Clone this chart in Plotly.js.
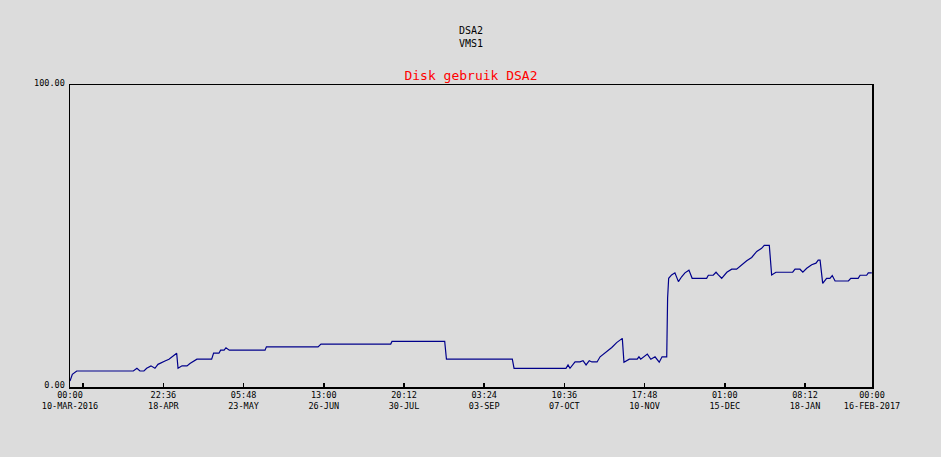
<!DOCTYPE html>
<html>
<head>
<meta charset="utf-8">
<script src="https://cdn.plot.ly/plotly-3.0.1.min.js"></script>
<style>
  html, body { margin: 0; padding: 0; background: #dcdcdc; }
  #chart { width: 941px; height: 457px; }
</style>
</head>
<body>
<div id="chart"></div>
<script>
// Sample times and disk usage (%)
const times = [
  "2016-03-10 00:00","2016-03-11 00:00","2016-03-12 21:00","2016-04-06 02:00","2016-04-07 15:00",
  "2016-04-08 22:00","2016-04-10 15:00","2016-04-11 19:00","2016-04-13 15:00","2016-04-15 08:00",
  "2016-04-16 15:00","2016-04-18 08:00","2016-04-19 15:00","2016-04-21 08:00","2016-04-22 14:00",
  "2016-04-24 15:00","2016-04-25 05:00","2016-04-26 22:00","2016-04-29 01:00","2016-04-30 07:00",
  "2016-05-03 07:00","2016-05-09 14:00","2016-05-10 10:00","2016-05-12 17:00","2016-05-13 10:00",
  "2016-05-14 22:00","2016-05-15 17:00","2016-05-17 03:00","2016-06-01 10:00","2016-06-02 00:00",
  "2016-06-24 02:00","2016-06-25 08:00","2016-07-25 04:00","2016-07-25 17:00","2016-08-17 06:00",
  "2016-08-18 00:00","2016-09-15 04:00","2016-09-15 22:00","2016-10-08 03:00","2016-10-09 00:00",
  "2016-10-09 20:00","2016-10-11 02:00","2016-10-12 00:00","2016-10-14 02:00","2016-10-15 10:00",
  "2016-10-16 17:00","2016-10-18 02:00","2016-10-19 05:00","2016-10-21 10:00","2016-10-22 17:00",
  "2016-10-24 19:00","2016-10-27 17:00","2016-10-29 19:00","2016-11-01 05:00","2016-11-01 22:00",
  "2016-11-04 05:00","2016-11-07 14:00","2016-11-08 08:00","2016-11-09 02:00","2016-11-10 14:00",
  "2016-11-11 22:00","2016-11-13 10:00","2016-11-15 05:00","2016-11-17 00:00","2016-11-18 05:00",
  "2016-11-20 05:00","2016-11-20 14:00","2016-11-21 01:00","2016-11-22 07:00","2016-11-23 17:00",
  "2016-11-25 05:00","2016-11-26 14:00","2016-11-28 00:00","2016-11-29 17:00","2016-12-01 02:00",
  "2016-12-07 07:00","2016-12-08 00:00","2016-12-10 02:00","2016-12-11 07:00","2016-12-12 07:00",
  "2016-12-13 17:00","2016-12-15 22:00","2016-12-18 00:00","2016-12-20 02:00","2016-12-22 07:00",
  "2016-12-24 10:00","2016-12-26 13:00","2016-12-28 17:00","2016-12-30 19:00","2016-12-31 22:00",
  "2017-01-03 02:00","2017-01-04 02:00","2017-01-05 22:00","2017-01-13 02:00","2017-01-14 02:00",
  "2017-01-16 05:00","2017-01-17 10:00","2017-01-19 02:00","2017-01-21 05:00","2017-01-23 01:00",
  "2017-01-24 00:00","2017-01-24 19:00","2017-01-25 22:00","2017-01-27 14:00","2017-01-29 00:00",
  "2017-01-30 00:00","2017-01-31 05:00","2017-02-05 22:00","2017-02-06 22:00","2017-02-10 02:00",
  "2017-02-10 22:00","2017-02-13 17:00","2017-02-14 10:00","2017-02-15 22:00"
];
const usage = [
  2.0, 4.2, 5.3, 5.3, 6.2,
  5.3, 5.3, 6.2, 7.0, 6.2,
  7.5, 8.0, 8.6, 9.2, 10.0,
  11.2, 6.2, 7.0, 7.0, 7.8,
  9.2, 9.2, 11.2, 11.2, 12.2,
  12.2, 13.0, 12.2, 12.2, 13.3,
  13.3, 14.2, 14.2, 15.1, 15.1,
  9.2, 9.2, 6.2, 6.2, 7.3,
  6.2, 7.3, 8.3, 8.3, 8.7,
  7.3, 8.7, 8.3, 8.3, 10.0,
  11.2, 13.1, 14.7, 16.1, 8.2,
  9.2, 9.2, 10.0, 9.2, 10.0,
  10.9, 9.2, 10.0, 8.2, 10.0,
  10.0, 29.4, 36.0, 37.1, 37.8,
  34.9, 36.5, 37.8, 38.7, 36.0,
  36.0, 37.0, 37.0, 38.0, 37.1,
  36.0, 38.0, 39.0, 39.0, 40.5,
  41.8, 42.9, 44.9, 45.9, 46.9,
  46.9, 37.1, 38.0, 38.0, 39.0,
  39.0, 38.0, 39.3, 40.5, 41.0,
  42.0, 42.0, 34.3, 36.0, 36.0,
  36.9, 35.1, 35.1, 36.0, 36.0,
  37.0, 37.0, 37.8, 37.8
];

// Axis ticks
const xTickVals = [
  "2016-03-10 00:00","2016-03-15 15:24","2016-04-18 22:36","2016-05-23 05:48","2016-06-26 13:00",
  "2016-07-30 20:12","2016-09-03 03:24","2016-10-07 10:36","2016-11-10 17:48","2016-12-15 01:00",
  "2017-01-18 08:12","2017-02-16 00:00"
];
const xTickText = [
  "00:00<br>10-MAR-2016","","22:36<br>18-APR","05:48<br>23-MAY","13:00<br>26-JUN",
  "20:12<br>30-JUL","03:24<br>03-SEP","10:36<br>07-OCT","17:48<br>10-NOV","01:00<br>15-DEC",
  "08:12<br>18-JAN","00:00<br>16-FEB-2017"
];
const yTickVals = [0, 100];
const yTickText = ["0.00", "100.00"];

const mono = "DejaVu Sans Mono, Liberation Mono, monospace";

const trace = {
  x: times, y: usage, type: "scatter", mode: "lines",
  line: { color: "#00008b", width: 1.2 },
  hoverinfo: "skip"
};

const layout = {
  width: 941, height: 457,
  paper_bgcolor: "#dcdcdc", plot_bgcolor: "#dcdcdc",
  margin: { l: 70, r: 69, t: 85, b: 70 },
  showlegend: false,
  title: {
    text: "Disk gebruik DSA2",
    font: { family: mono, size: 13, color: "#ff0000" },
    x: 0.5, xanchor: "center", xref: "paper",
    y: 1 - 75 / 457, yanchor: "middle", yref: "container"
  },
  annotations: [{
    text: "DSA2<br>VMS1", showarrow: false,
    xref: "paper", yref: "paper", x: 0.5, y: (387 - 37) / 302,
    xanchor: "center", yanchor: "middle",
    font: { family: mono, size: 10, color: "#000000" }
  }],
  xaxis: {
    type: "date",
    range: ["2016-03-10 00:00", "2017-02-16 00:00"],
    tickmode: "array", tickvals: xTickVals, ticktext: xTickText,
    ticks: "inside", ticklen: 4, tickwidth: 1.5, tickcolor: "#000",
    showline: true, linecolor: "#000", linewidth: 1.5, mirror: true,
    showgrid: false, zeroline: false, ticklabelstandoff: -1,
    tickfont: { family: mono, size: 8.5, color: "#000" }
  },
  yaxis: {
    range: [0, 100],
    tickmode: "array", tickvals: yTickVals, ticktext: yTickText,
    ticks: "", showline: true, linecolor: "#000", linewidth: 1.5, mirror: true,
    showgrid: false, zeroline: false, ticklabelstandoff: 2, ticklabelshift: -2,
    tickfont: { family: mono, size: 8.5, color: "#000" }
  }
};

Plotly.newPlot("chart", [trace], layout, { staticPlot: true, displayModeBar: false });
</script>
</body>
</html>
